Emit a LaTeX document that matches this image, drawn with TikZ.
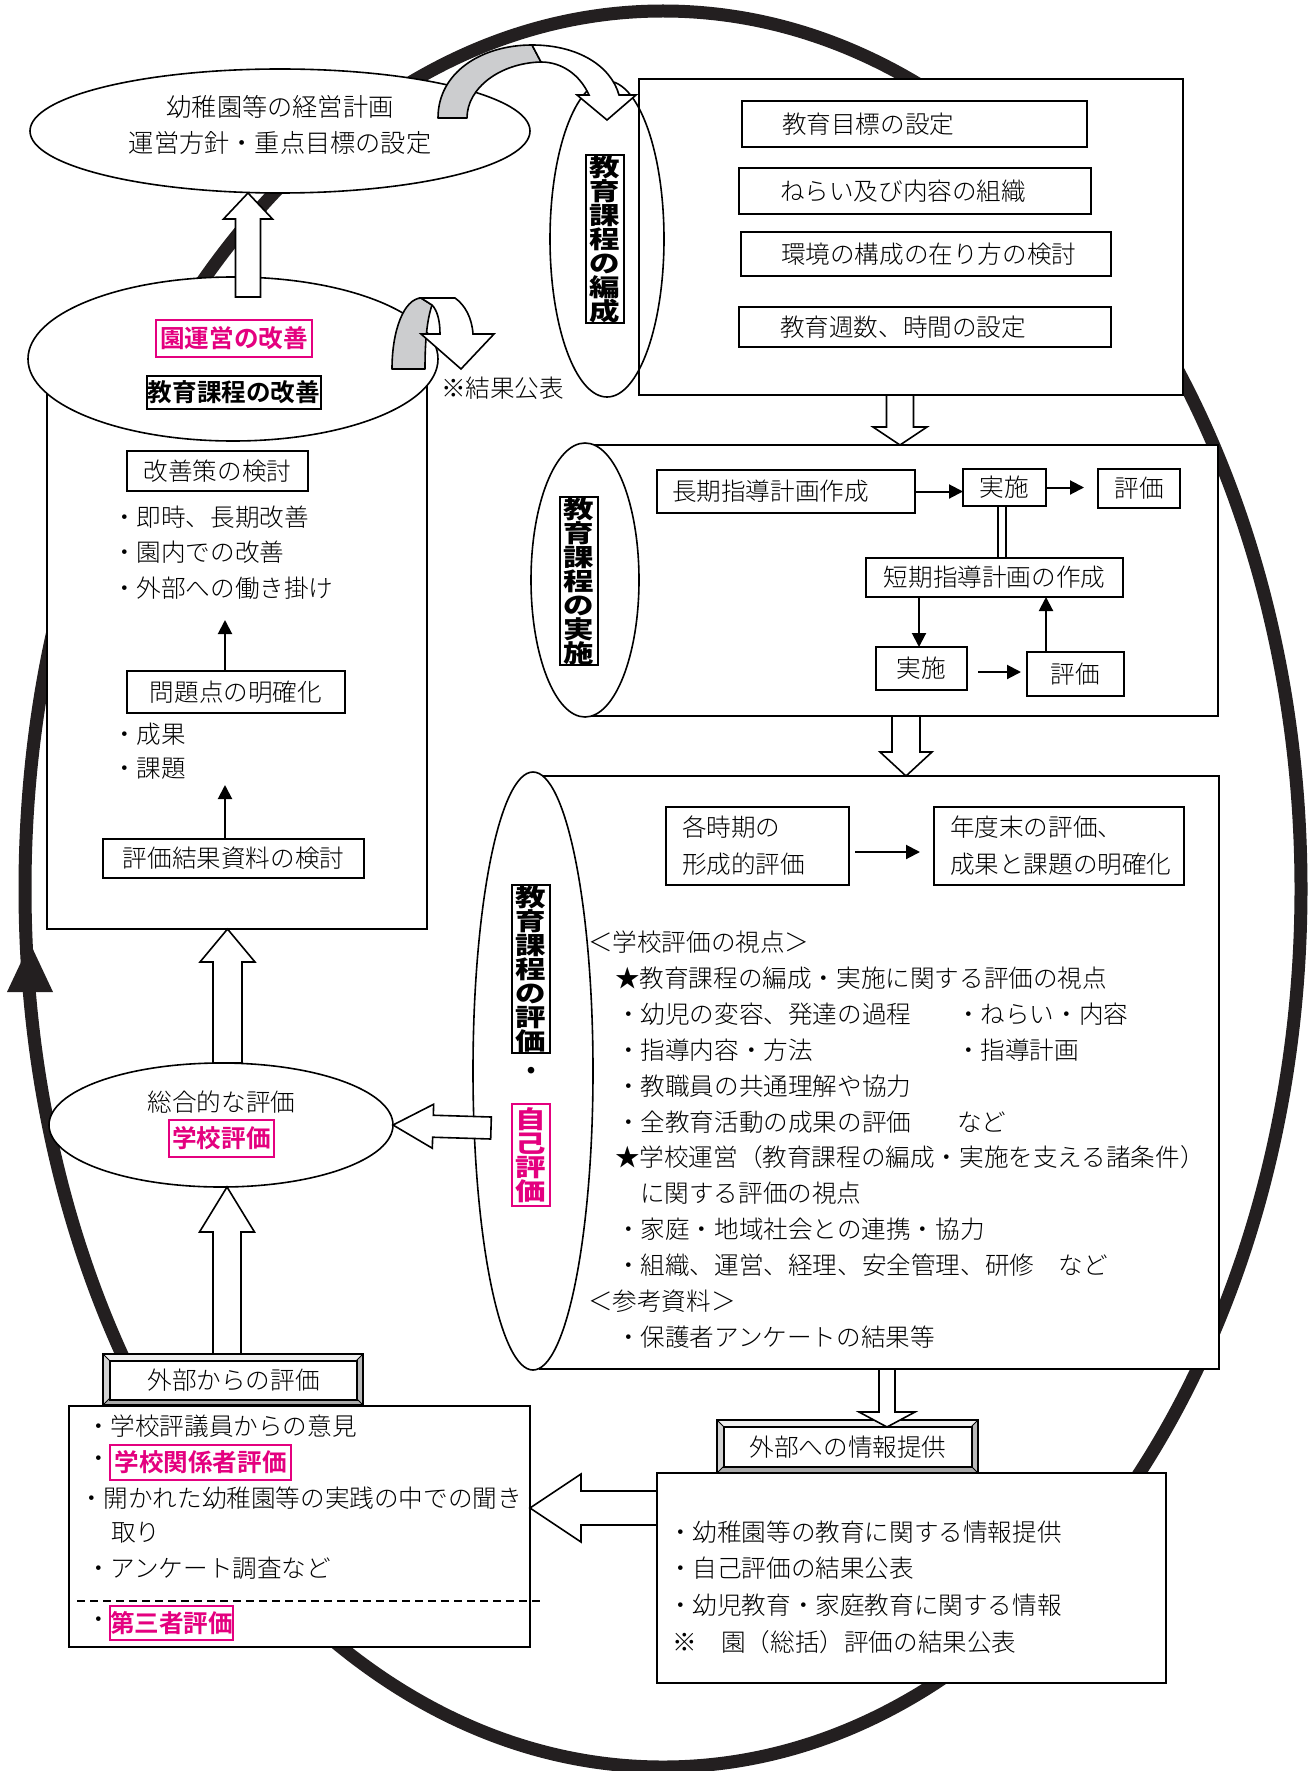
\documentclass[tikz,border=0pt]{standalone}
\usepackage{fontspec}
\IfFontExistsTF{Noto Sans CJK JP Light}{%
  \setmainfont{Noto Sans CJK JP Light}[BoldFont={Noto Sans CJK JP Bold}]}{%
  \setmainfont{Noto Sans CJK JP}}
\newfontfamily\widefont{Noto Sans CJK JP}[FakeStretch=1.25]
\usetikzlibrary{calc,arrows.meta,shapes.geometric}
\definecolor{ringc}{RGB}{35,31,32}
\definecolor{mag}{RGB}{228,0,127}
\definecolor{arrgrey}{RGB}{204,205,207}
\newcommand{\bodyfont}{\fontsize{12.3}{17.9}\selectfont}
\newcommand{\vtfont}{\widefont\bfseries\fontsize{12.2}{12}\selectfont}
% block arrow: [opts]{from}{to}{shaft half width}{head half width}{head length}
\newcommand{\blockarrow}[6][]{%
  \coordinate (bah) at ($(#3)!#6!(#2)$);
  \draw[blockarr,#1] ($(#2)!#4!90:(#3)$) -- ($(bah)!#4!90:(#3)$) -- ($(bah)!#5!90:(#3)$) -- (#3) -- ($(bah)!#5!-90:(#3)$) -- ($(bah)!#4!-90:(#3)$) -- ($(#2)!#4!-90:(#3)$) -- cycle;}
% bevel frame: x1 y1 x2 y2
\newcommand{\bevelframe}[4]{%
  \fill[gray!12] (#1,#2) -- (#3,#2) -- ++(-7,7) -- ($(#1,#2)+(7,7)$) -- cycle;
  \fill[gray!35] (#1,#2) -- ++(7,7) -- ($(#1,#4)+(7,-7)$) -- (#1,#4) -- cycle;
  \fill[gray!55] (#3,#2) -- ++(-7,7) -- ($(#3,#4)+(-7,-7)$) -- (#3,#4) -- cycle;
  \fill[gray!65] (#1,#4) -- ++(7,-7) -- ($(#3,#4)+(-7,-7)$) -- (#3,#4) -- cycle;
  \draw[line width=0.8pt] (#1,#2) rectangle (#3,#4);
  \draw[line width=0.5pt] (#1,#2) -- ++(7,7) (#3,#2) -- ++(-7,7) (#1,#4) -- ++(7,-7) (#3,#4) -- ++(-7,-7);}

\begin{document}
\begin{tikzpicture}[x=0.5pt,y=-0.5pt,
  every node/.style={inner sep=0pt,outer sep=0pt,font=\bodyfont},
  outl/.style={draw=black,line width=0.8pt,fill=white},
  bx/.style={rectangle,draw=black,line width=0.8pt,fill=white},
  lbox/.style={bx,inner xsep=0pt,align=left},
  magbox/.style={rectangle,draw=mag,line width=1.2pt,fill=white,text=mag,font=\bodyfont\bfseries},
  blkbox/.style={rectangle,draw=black,line width=1.2pt,fill=white,font=\bodyfont\bfseries},
  vbox/.style={rectangle,draw=black,line width=1pt,fill=white,align=center,font=\vtfont,minimum width=19pt},
  blockarr/.style={draw=black,line width=0.8pt,fill=white,line join=miter},
  thinarr/.style={line width=1pt,-{Triangle[length=7pt,width=7pt]}},
  lt/.style={anchor=west}
]
\useasboundingbox[fill=white] (0,0) rectangle (1309,1771);

% ---- big cycle ring ----
\draw[ringc,line width=6.5pt] (663,889) ellipse [x radius=638, y radius=878];
\fill[ringc] (30,943) -- (7,992) -- (53,992) -- cycle;

% ---- management plan ----
\node[ellipse,outl,minimum width=250pt,minimum height=62pt] (plan) at (280,131) {};
\node[align=center,font=\fontsize{12.6}{18}\selectfont] (plantxt) at (280,125) {幼稚園等の経営計画\\運営方針・重点目標の設定};

% ---- improvement ----
\node[bx,minimum width=190pt,minimum height=285pt] (leftbox) at (237,644) {};
\node[ellipse,outl,minimum width=205pt,minimum height=82pt] (impr) at (233,359) {};
\node[magbox,minimum width=78pt,minimum height=18.5pt] (enun) at (234,338.5) {園運営の改善};
\node[blkbox,minimum width=87pt,minimum height=16.5pt] (kyokai) at (234,392.5) {教育課程の改善};
\node[bx,minimum width=90.5pt,minimum height=20pt] (kaizen) at (217.5,471) {改善策の検討};
\node[lt] (k1) at (112,517) {・即時、長期改善};
\node[lt] (k2) at (112,552) {・園内での改善};
\node[lt] (k3) at (112,588) {・外部への働き掛け};
\node[bx,minimum width=109pt,minimum height=21pt] (mondai) at (236,692) {問題点の明確化};
\draw[thinarr] ($(mondai.north)+(-11,0)$) -- ++(0,-51);
\node[lt] (s1) at (112,734) {・成果};
\node[lt] (s2) at (112,769) {・課題};
\node[bx,minimum width=130.5pt,minimum height=19.5pt] (shiryo) at (233.5,858.5) {評価結果資料の検討};
\draw[thinarr] ($(shiryo.north)+(-8.5,0)$) -- ++(0,-54);

\coordinate (a1s) at (248,297);
\coordinate (a1e) at (plan.south -| a1s);
\blockarrow{a1s}{a1e}{6.25pt}{12.25pt}{13pt}

% small curved arrow (result publication)
\filldraw[fill=arrgrey,line width=0.8pt,line join=round] (392,369) .. controls (392,330) and (404,299) .. (421,298) -- (432,305) .. controls (427,320) and (425,340) .. (425,369) -- cycle;
\filldraw[fill=white,line width=0.8pt,line join=miter] (421,298) -- (455,298) .. controls (465,305) and (472,318) .. (473,334) -- (494,334) -- (461,369) -- (421,334) -- (440,334) .. controls (440,320) and (437,310) .. (432,305) -- cycle;
\node[lt] (kekka) at (441,388) {※結果公表};

% ---- curriculum organisation ----
\node[bx,minimum width=272pt,minimum height=158pt] (henbox) at (911,237) {};
\node[ellipse,draw=black,line width=0.8pt,minimum width=57pt,minimum height=158pt] (henell) at (607,239) {};
\node[vbox,minimum height=84pt] (hentxt) at (605,239) {教\\育\\課\\程\\の\\編\\成};
\node[lbox,text width=172.5pt,minimum height=23pt] (h1) at (914.5,124) {\hspace*{20pt}教育目標の設定};
\node[lbox,text width=176pt,minimum height=23pt] (h2) at (915,191) {\hspace*{20.5pt}ねらい及び内容の組織};
\node[lbox,text width=185pt,minimum height=22pt] (h3) at (926,254) {\hspace*{20pt}環境の構成の在り方の検討};
\node[lbox,text width=186pt,minimum height=20pt] (h4) at (925,327) {\hspace*{20.5pt}教育週数、時間の設定};

% top curved arrow
\filldraw[fill=arrgrey,line width=0.8pt,line join=round] (438,118) .. controls (438,72) and (482,45) .. (532,45) -- (541,62) .. controls (500,63) and (467,88) .. (467,118) -- cycle;
\filldraw[fill=white,line width=0.8pt,line join=miter] (532,45) .. controls (578,45) and (611,66) .. (619,95) -- (636,95) -- (607,120) -- (577,95) -- (589,95) .. controls (580,75) and (562,62) .. (541,62) -- cycle;

% ---- curriculum implementation ----
\node[bx,minimum width=316.5pt,minimum height=135.5pt] (jbox) at (901.5,580.5) {};
\coordinate (a3s) at ($(henbox.south)+(-11,0)$);
\coordinate (a3e) at (jbox.north -| a3s);
\blockarrow{a3s}{a3e}{6.75pt}{13.5pt}{9pt}
\node[ellipse,outl,minimum width=54pt,minimum height=137pt] (jell) at (585,580) {};
\node[vbox,minimum height=84pt] (jtxt) at (579,581) {教\\育\\課\\程\\の\\実\\施};
\node[lbox,text width=129pt,minimum height=21.5pt] (choki) at (786,491.5) {\hspace*{7.5pt}長期指導計画作成};
\node[bx,minimum width=41.5pt,minimum height=18.5pt] (jis1) at (1004.5,487.5) {実施};
\node[bx,minimum width=41pt,minimum height=19.5pt] (hyo1) at (1139,488.5) {評価};
\node[bx,minimum width=128.5pt,minimum height=19.5pt] (tanki) at (994.5,577.5) {短期指導計画の作成};
\node[bx,minimum width=45.5pt,minimum height=21.5pt] (jis2) at (921.5,668.5) {実施};
\node[bx,minimum width=48.5pt,minimum height=22pt] (hyo2) at (1075.5,674) {評価};
\draw[thinarr] (choki.east) -- (choki.east -| jis1.west);
\draw[thinarr,shorten >=7pt] (jis1.east) -- (jis1.east -| hyo1.west);
\draw[line width=0.8pt,fill=white] ($(jis1.south)+(-6.5,0)$) rectangle ($(tanki.north)+(11.5,0)$);
\draw[thinarr] ($(tanki.south)+(-75.5,0)$) -- ($(jis2.north)+(-2.5,0)$);
\draw[thinarr] ($(jis2.east)+(11,3.5)$) -- ($(hyo2.west)+(-6,-2)$);
\draw[thinarr] ($(hyo2.north)+(-29.5,0)$) -- ($(tanki.south)+(51.5,0)$);

% ---- curriculum evaluation ----
\node[bx,minimum width=339.5pt,minimum height=296.5pt] (hbox) at (879.5,1072.5) {};
\coordinate (a4s) at ($(jbox.south)+(4.5,0)$);
\coordinate (a4e) at (hbox.north -| a4s);
\blockarrow{a4s}{a4e}{7pt}{13pt}{12pt}
\node[ellipse,outl,minimum width=60pt,minimum height=299pt] (hell) at (533,1071) {};
\node[vbox,minimum height=84pt] (htxt) at (531,969) {教\\育\\課\\程\\の\\評\\価};
\node[font=\fontsize{13}{13}\selectfont\bfseries] (hdot) at (531,1074) {・};
\node[vbox,draw=mag,text=mag,minimum height=51pt] (jiko) at (531,1155) {自\\己\\評\\価};
\node[lbox,text width=91.5pt,minimum height=39pt,font=\fontsize{12.3}{18.5}\selectfont] (kakuji) at (757.5,846) {\hspace*{8pt}各時期の\\\hspace*{8pt}形成的評価};
\node[lbox,text width=125pt,minimum height=39pt,font=\fontsize{12.3}{18.5}\selectfont] (nendo) at (1059,846) {\hspace*{8pt}年度末の評価、\\\hspace*{8pt}成果と課題の明確化};
\draw[thinarr] ($(kakuji.east)+(6,6)$) -- ($(nendo.west)+(-14,6)$);
\node[lt] (e1) at (588,942) {＜学校評価の視点＞};
\node[lt] (e2) at (615,978) {★教育課程の編成・実施に関する評価の視点};
\node[lt] (e3) at (616,1014) {・幼児の変容、発達の過程};
\node[lt] (e3b) at (956,1014) {・ねらい・内容};
\node[lt] (e4) at (616,1050) {・指導内容・方法};
\node[lt] (e4b) at (956,1050) {・指導計画};
\node[lt] (e5) at (616,1086) {・教職員の共通理解や協力};
\node[lt] (e6) at (616,1122) {・全教育活動の成果の評価};
\node[lt] (e6b) at (957,1122) {など};
\node[lt] (e7) at (615,1157) {★学校運営（教育課程の編成・実施を支える諸条件）};
\node[lt] (e8) at (640,1193) {に関する評価の視点};
\node[lt] (e9) at (616,1229) {・家庭・地域社会との連携・協力};
\node[lt] (e10) at (616,1265) {・組織、運営、経理、安全管理、研修　など};
\node[lt] (e11) at (588,1301) {＜参考資料＞};
\node[lt] (e12) at (616,1337) {・保護者アンケートの結果等};

% ---- school evaluation ----
\node[ellipse,outl,minimum width=172pt,minimum height=62pt] (school) at (221,1125) {};
\node (sogo) at (221.5,1102) {総合的な評価};
\node[magbox,minimum width=52.5pt,minimum height=18.5pt] (gakko) at (221.5,1138.5) {学校評価};
\coordinate (a5s) at (491,1128);
\coordinate (a5e) at (school.east);
\blockarrow{a5s}{a5e}{5.5pt}{11pt}{20pt}
\coordinate (a2s) at ($(school.north)+(6.5,0)$);
\coordinate (a2e) at (leftbox.south -| a2s);
\blockarrow{a2s}{a2e}{7.25pt}{13.75pt}{16.5pt}

% ---- external evaluation ----
\node[bx,minimum width=230.5pt,minimum height=120.5pt] (outbox) at (299.5,1526.5) {};
\bevelframe{103}{1354}{363}{1405}
\node[bx,minimum width=123.5pt,minimum height=19.5pt] (gaibu) at (233.5,1380.5) {外部からの評価};
\coordinate (a6s) at ($(gaibu.north)+(-6.5,-7)$);
\coordinate (a6e) at (school.south -| a6s);
\blockarrow{a6s}{a6e}{7pt}{13.75pt}{22.5pt}
\node[lt] (o1) at (86,1426) {・学校評議員からの意見};
\node[lt] (o2d) at (86,1462) {・};
\node[magbox,minimum width=90.5pt,minimum height=17.5pt] (o2) at (200.5,1462.5) {学校関係者評価};
\node[lt] (o3) at (79,1498) {・開かれた幼稚園等の実践の中での聞き};
\node[lt] (o4) at (111,1533) {取り};
\node[lt] (o5) at (86,1568) {・アンケート調査など};
\draw[dashed,line width=0.7pt,dash pattern=on 4pt off 2.5pt] (77,1601) -- (541,1601);
\node[lt] (o6d) at (86,1623) {・};
\node[magbox,minimum width=61.5pt,minimum height=17pt] (o6) at (171.5,1623) {第三者評価};

% ---- information to outside ----
\node[bx,minimum width=254.5pt,minimum height=105pt] (infobox) at (911.5,1578) {};
\bevelframe{717}{1420}{978}{1473}
\node[bx,minimum width=124pt,minimum height=20pt] (joho) at (848,1447) {外部への情報提供};
\coordinate (a7s) at (hbox.south -| 887,0);
\coordinate (a7e) at (joho.north -| a7s);
\blockarrow{a7s}{a7e}{4pt}{14pt}{7.5pt}
\node[lt] (i1) at (668,1532) {・幼稚園等の教育に関する情報提供};
\node[lt] (i2) at (668,1568) {・自己評価の結果公表};
\node[lt] (i3) at (668,1605) {・幼児教育・家庭教育に関する情報};
\node[lt] (i4) at (672,1642) {※　園（総括）評価の結果公表};
\coordinate (a8s) at ($(infobox.west)+(0,-70)$);
\coordinate (a8e) at (outbox.east |- a8s);
\blockarrow{a8s}{a8e}{8.5pt}{17pt}{25.5pt}
\end{tikzpicture}
\end{document}
